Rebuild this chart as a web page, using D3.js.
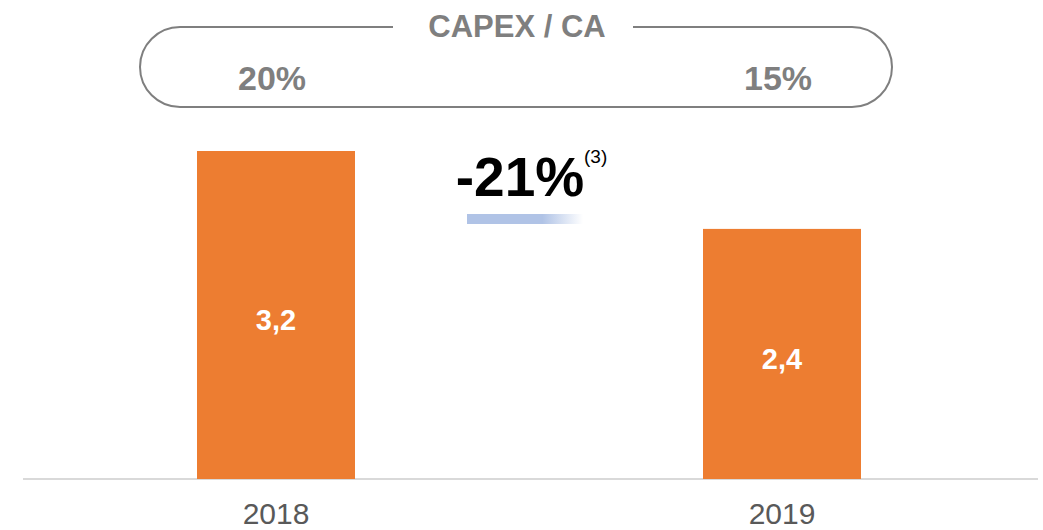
<!DOCTYPE html>
<html>
<head>
<meta charset="utf-8">
<script src="https://cdn.jsdelivr.net/npm/d3@7"></script>
<style>
  body { margin: 0; background: #fff; }
  svg { font-family: "Liberation Sans", Arial, sans-serif; }
</style>
</head>
<body>
<svg id="svg1" width="1043" height="530"></svg>
<script>
const years = ["2018", "2019"];
const capex = [3.2, 2.44];
const capexRatio = ["20%", "15%"];
const changeLabel = "-21%";
const noteLabel = "(3)";
const boxTitle = "CAPEX / CA";

const svg = d3.select("svg#svg1");
const baseY = 479;

const xScale = d3.scalePoint().domain(years).range([23, 1035]).padding(0.5);
const yScale = d3.scaleLinear().domain([0, 3.2]).range([baseY, 151]);
const barW = 158;
const fmt = v => d3.format(".1f")(v).replace(".", ",");

// gradient for the small bar under the change label
const defs = svg.append("defs");
const grad = defs.append("linearGradient").attr("id", "fade");
grad.append("stop").attr("offset", "0%").attr("stop-color", "#b0c3e6");
grad.append("stop").attr("offset", "65%").attr("stop-color", "#b0c3e6");
grad.append("stop").attr("offset", "100%").attr("stop-color", "#ffffff");

// top rounded box
let box = svg.append("g").attr("id", "box");
box.append("rect")
    .attr("x", 140).attr("y", 27)
    .attr("width", 752).attr("height", 80)
    .attr("rx", 40).attr("ry", 40)
    .style("fill", "none")
    .style("stroke", "#7f7f7f")
    .style("stroke-width", 2);
box.append("rect")
    .attr("x", 393).attr("y", 18)
    .attr("width", 240).attr("height", 18)
    .style("fill", "#fff");
box.append("text")
    .attr("x", 517).attr("y", 37)
    .attr("text-anchor", "middle")
    .style("font-size", "31px")
    .style("font-weight", "bold")
    .style("fill", "#7f7f7f")
    .text(boxTitle);
box.selectAll("text.ratio").data(capexRatio).join("text")
    .attr("class", "ratio")
    .attr("x", (d, i) => xScale(years[i]) - 4)
    .attr("y", 90)
    .attr("text-anchor", "middle")
    .style("font-size", "34px")
    .style("font-weight", "bold")
    .style("fill", "#7f7f7f")
    .text(d => d);

// baseline
svg.append("line")
    .attr("x1", 23).attr("x2", 1038)
    .attr("y1", baseY).attr("y2", baseY)
    .style("stroke", "#d9d9d9")
    .style("stroke-width", 2);

// bars
let bars = svg.append("g").attr("id", "bars");
bars.selectAll("rect").data(capex).join("rect")
    .attr("x", (d, i) => xScale(years[i]) - barW / 2)
    .attr("y", d => yScale(d))
    .attr("width", barW)
    .attr("height", d => baseY - yScale(d))
    .style("fill", "#ed7d31");

bars.selectAll("text").data(capex).join("text")
    .attr("x", (d, i) => xScale(years[i]))
    .attr("y", d => (yScale(d) + baseY) / 2 + 15)
    .attr("text-anchor", "middle")
    .style("font-size", "29px")
    .style("font-weight", "bold")
    .style("fill", "#fff")
    .text(d => fmt(d));

// year labels
svg.append("g").selectAll("text").data(years).join("text")
    .attr("x", d => xScale(d))
    .attr("y", 524)
    .attr("text-anchor", "middle")
    .style("font-size", "30px")
    .style("fill", "#595959")
    .text(d => d);

// change annotation
svg.append("text")
    .attr("x", 520).attr("y", 196)
    .attr("text-anchor", "middle")
    .style("font-size", "55px")
    .style("font-weight", "bold")
    .style("fill", "#000")
    .text(changeLabel);
svg.append("text")
    .attr("x", 584).attr("y", 163)
    .style("font-size", "19px")
    .style("fill", "#000")
    .text(noteLabel);
svg.append("rect")
    .attr("x", 467).attr("y", 214)
    .attr("width", 116).attr("height", 10)
    .style("fill", "url(#fade)");
</script>
</body>
</html>
